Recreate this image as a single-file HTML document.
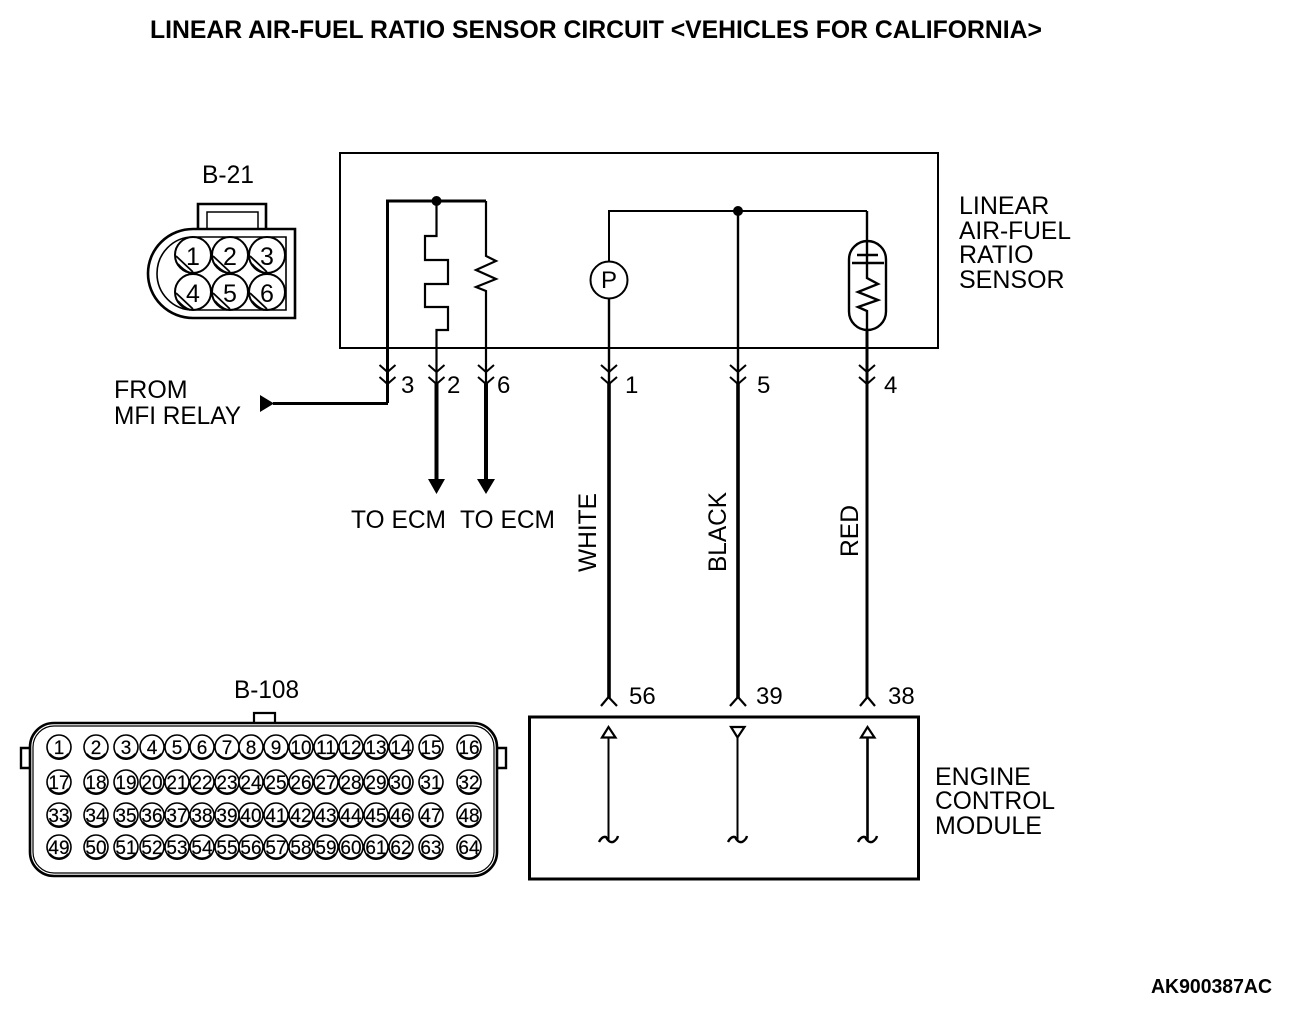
<!DOCTYPE html>
<html><head><meta charset="utf-8"><style>
html,body{margin:0;padding:0;background:#fff;width:1312px;height:1010px;overflow:hidden}
svg{display:block}
text{font-family:"Liberation Sans",sans-serif;fill:#000}
.l{font-size:25px}
.n{font-size:24px}
.pins text{font-size:19px;text-anchor:middle;stroke:#000;stroke-width:.2}
</style></head><body>
<svg width="1312" height="1010" viewBox="0 0 1312 1010" xmlns="http://www.w3.org/2000/svg">
<defs>
<g id="pin"><circle cx="0" cy="0" r="12" fill="#fff" stroke="#000" stroke-width="1.6"/><path d="M-9.500 7A12 12 0 0 0 9.500 7" fill="none" stroke="#000" stroke-width="2.600"/></g>
<path id="yd" d="M-8 -10L0 -3L8 -10M-8 2L0 9L8 2" fill="none" stroke="#000" stroke-width="2"/>
</defs>
<rect width="1312" height="1010" fill="#fff"/>
<text x="150" y="38" font-size="25" font-weight="bold" textLength="892" lengthAdjust="spacingAndGlyphs">LINEAR AIR-FUEL RATIO SENSOR CIRCUIT &lt;VEHICLES FOR CALIFORNIA&gt;</text>

<!-- B-21 -->
<text x="202" y="183" class="l" textLength="52" lengthAdjust="spacingAndGlyphs">B-21</text>
<g fill="none" stroke="#000">
<path d="M198 228V204H266V228" stroke-width="2.600"/>
<path d="M207 228V212H258V228" stroke-width="1.500"/>
<path d="M295 229H193A45 44.500 0 0 0 193 318H295Z" stroke-width="2.600"/>
<path d="M286 237V310H193A36 36.500 0 0 1 193 237Z" stroke-width="1.600"/>
<g stroke-width="2" fill="#fff">
<circle cx="193" cy="255" r="18"/><circle cx="230" cy="255" r="18"/><circle cx="267" cy="255" r="18"/>
<circle cx="193" cy="292" r="18"/><circle cx="230" cy="292" r="18"/><circle cx="267" cy="292" r="18"/>
</g>
<g stroke-width="1.800">
<path d="M176 256L193 272M178 264Q183 270 190 273"/>
<path d="M213 256L230 272M215 264Q220 270 227 273"/>
<path d="M250 256L267 272M252 264Q257 270 264 273"/>
<path d="M176 293L193 309M178 301Q183 307 190 310"/>
<path d="M213 293L230 309M215 301Q220 307 227 310"/>
<path d="M250 293L267 309M252 301Q257 307 264 310"/>
</g>
</g>
<g class="l" text-anchor="middle">
<text x="193" y="265">1</text><text x="230" y="265">2</text><text x="267" y="265">3</text>
<text x="193" y="302">4</text><text x="230" y="302">5</text><text x="267" y="302">6</text>
</g>

<!-- sensor box -->
<rect x="340" y="153" width="598" height="195" fill="none" stroke="#000" stroke-width="2"/>
<g fill="none" stroke="#000">
<path d="M387.500 403V201H486" stroke-width="3"/>
<path d="M436.500 201V236H425V260H448V284H425V307H448V330H436.500V382" stroke-width="2.200"/>
<path d="M486 201V256L496 261L476 270L496 279L476 287L486 291V382" stroke-width="2.200"/>
<path d="M609 280V211H867" stroke-width="2"/>
<path d="M609 298V382" stroke-width="2.400"/>
<path d="M738 211V382" stroke-width="2.400"/>
<path d="M867 211V263M857 255H878M852 263H884M867 263V278L878 284L858 292L878 300L858 307L867 311V330" stroke-width="2.400"/>
<path d="M867 330V382" stroke-width="3"/>
<rect x="849" y="241" width="37" height="89" rx="18.500" stroke-width="2.400"/>
<circle cx="609" cy="280" r="18.500" fill="#fff" stroke-width="2"/>
</g>
<circle cx="436.500" cy="201" r="5" fill="#000"/>
<circle cx="738" cy="211" r="5" fill="#000"/>
<text x="609" y="288" class="n" text-anchor="middle">P</text>
<g class="l">
<text x="959" y="214">LINEAR</text><text x="959" y="239" textLength="112" lengthAdjust="spacingAndGlyphs">AIR-FUEL</text><text x="959" y="263">RATIO</text><text x="959" y="288">SENSOR</text>
</g>
<use href="#yd" x="387.500" y="375"/><use href="#yd" x="436.500" y="375"/><use href="#yd" x="486" y="375"/>
<use href="#yd" x="609" y="375"/><use href="#yd" x="738" y="375"/><use href="#yd" x="867" y="375"/>
<g class="n">
<text x="401" y="393">3</text><text x="447" y="393">2</text><text x="497" y="393">6</text>
<text x="625" y="393">1</text><text x="757" y="393">5</text><text x="884" y="393">4</text>
</g>
<g stroke="#000" fill="none">
<path d="M436.500 382V482M486 382V482" stroke-width="4"/>
<path d="M609 382V698M738 382V698" stroke-width="3.600"/>
<path d="M867 382V698" stroke-width="3"/>
<path d="M273 403.500H388" stroke-width="3"/>
</g>
<path d="M260 395L274 403.500L260 412Z M428 479H445L436.500 494Z M477 479H495L486 494Z" fill="#000"/>
<g class="l">
<text x="114" y="398">FROM</text><text x="114" y="424" textLength="127" lengthAdjust="spacingAndGlyphs">MFI RELAY</text>
<text x="351" y="528" textLength="95" lengthAdjust="spacingAndGlyphs">TO ECM</text><text x="460" y="528" textLength="95" lengthAdjust="spacingAndGlyphs">TO ECM</text>
<text transform="translate(596,572) rotate(-90)" textLength="79" lengthAdjust="spacingAndGlyphs">WHITE</text>
<text transform="translate(726,572) rotate(-90)" textLength="80" lengthAdjust="spacingAndGlyphs">BLACK</text>
<text transform="translate(858,557) rotate(-90)" textLength="52" lengthAdjust="spacingAndGlyphs">RED</text>
</g>

<!-- ECM box -->
<g fill="none" stroke="#000">
<path d="M601 706L608.500 697L617 706M730 706L738 697L746 706M860 706L867.500 697L875 706" stroke-width="2.200"/>
<rect x="529.500" y="717" width="389" height="162" stroke-width="3"/>
<path d="M608.500 738V840M737.500 738V840" stroke-width="2"/>
<path d="M867.500 738V840" stroke-width="2.600"/>
<path d="M602 737.500L608.500 727L615.500 737.500Z M731 727H744.500L737.500 737.500Z M861 737.500L867.500 727L874.500 737.500Z" stroke-width="2.200"/>
<path d="M599 842Q602 836 606 837Q609 843 613 842Q617 840 618 836M728 842Q731 836 735 837Q738 843 742 842Q746 840 747 836M858 842Q861 836 865 837Q868 843 872 842Q876 840 877 836" stroke-width="2.400"/>
</g>
<g class="n">
<text x="629" y="704">56</text><text x="756" y="704">39</text><text x="888" y="704">38</text>
</g>
<g class="l">
<text x="935" y="785">ENGINE</text><text x="935" y="809" textLength="120" lengthAdjust="spacingAndGlyphs">CONTROL</text><text x="935" y="834">MODULE</text>
</g>

<!-- B-108 -->
<text x="234" y="698" class="l" textLength="65" lengthAdjust="spacingAndGlyphs">B-108</text>
<g fill="none" stroke="#000">
<path d="M254 723V713H275V723" stroke-width="2.200"/>
<path d="M30 748H21V768H30M497 748H506V768H497" stroke-width="2.400"/>
<rect x="30" y="723" width="467" height="153" rx="24" stroke-width="2.600"/>
<rect x="33" y="726" width="461" height="147" rx="21" stroke-width="1.200"/>
</g>
<g class="pins">
<use href="#pin" x="59" y="747"/><use href="#pin" x="96" y="747"/><use href="#pin" x="126" y="747"/><use href="#pin" x="152" y="747"/><use href="#pin" x="177" y="747"/><use href="#pin" x="202" y="747"/><use href="#pin" x="227" y="747"/><use href="#pin" x="251" y="747"/><use href="#pin" x="276" y="747"/><use href="#pin" x="301" y="747"/><use href="#pin" x="326" y="747"/><use href="#pin" x="351" y="747"/><use href="#pin" x="376" y="747"/><use href="#pin" x="401" y="747"/><use href="#pin" x="431" y="747"/><use href="#pin" x="469" y="747"/>
<use href="#pin" x="59" y="782"/><use href="#pin" x="96" y="782"/><use href="#pin" x="126" y="782"/><use href="#pin" x="152" y="782"/><use href="#pin" x="177" y="782"/><use href="#pin" x="202" y="782"/><use href="#pin" x="227" y="782"/><use href="#pin" x="251" y="782"/><use href="#pin" x="276" y="782"/><use href="#pin" x="301" y="782"/><use href="#pin" x="326" y="782"/><use href="#pin" x="351" y="782"/><use href="#pin" x="376" y="782"/><use href="#pin" x="401" y="782"/><use href="#pin" x="431" y="782"/><use href="#pin" x="469" y="782"/>
<use href="#pin" x="59" y="815"/><use href="#pin" x="96" y="815"/><use href="#pin" x="126" y="815"/><use href="#pin" x="152" y="815"/><use href="#pin" x="177" y="815"/><use href="#pin" x="202" y="815"/><use href="#pin" x="227" y="815"/><use href="#pin" x="251" y="815"/><use href="#pin" x="276" y="815"/><use href="#pin" x="301" y="815"/><use href="#pin" x="326" y="815"/><use href="#pin" x="351" y="815"/><use href="#pin" x="376" y="815"/><use href="#pin" x="401" y="815"/><use href="#pin" x="431" y="815"/><use href="#pin" x="469" y="815"/>
<use href="#pin" x="59" y="847"/><use href="#pin" x="96" y="847"/><use href="#pin" x="126" y="847"/><use href="#pin" x="152" y="847"/><use href="#pin" x="177" y="847"/><use href="#pin" x="202" y="847"/><use href="#pin" x="227" y="847"/><use href="#pin" x="251" y="847"/><use href="#pin" x="276" y="847"/><use href="#pin" x="301" y="847"/><use href="#pin" x="326" y="847"/><use href="#pin" x="351" y="847"/><use href="#pin" x="376" y="847"/><use href="#pin" x="401" y="847"/><use href="#pin" x="431" y="847"/><use href="#pin" x="469" y="847"/>
<text x="59" y="754">1</text><text x="96" y="754">2</text><text x="126" y="754">3</text><text x="152" y="754">4</text><text x="177" y="754">5</text><text x="202" y="754">6</text><text x="227" y="754">7</text><text x="251" y="754">8</text><text x="276" y="754">9</text><text x="301" y="754">10</text><text x="326" y="754">11</text><text x="351" y="754">12</text><text x="376" y="754">13</text><text x="401" y="754">14</text><text x="431" y="754">15</text><text x="469" y="754">16</text>
<text x="59" y="789">17</text><text x="96" y="789">18</text><text x="126" y="789">19</text><text x="152" y="789">20</text><text x="177" y="789">21</text><text x="202" y="789">22</text><text x="227" y="789">23</text><text x="251" y="789">24</text><text x="276" y="789">25</text><text x="301" y="789">26</text><text x="326" y="789">27</text><text x="351" y="789">28</text><text x="376" y="789">29</text><text x="401" y="789">30</text><text x="431" y="789">31</text><text x="469" y="789">32</text>
<text x="59" y="822">33</text><text x="96" y="822">34</text><text x="126" y="822">35</text><text x="152" y="822">36</text><text x="177" y="822">37</text><text x="202" y="822">38</text><text x="227" y="822">39</text><text x="251" y="822">40</text><text x="276" y="822">41</text><text x="301" y="822">42</text><text x="326" y="822">43</text><text x="351" y="822">44</text><text x="376" y="822">45</text><text x="401" y="822">46</text><text x="431" y="822">47</text><text x="469" y="822">48</text>
<text x="59" y="854">49</text><text x="96" y="854">50</text><text x="126" y="854">51</text><text x="152" y="854">52</text><text x="177" y="854">53</text><text x="202" y="854">54</text><text x="227" y="854">55</text><text x="251" y="854">56</text><text x="276" y="854">57</text><text x="301" y="854">58</text><text x="326" y="854">59</text><text x="351" y="854">60</text><text x="376" y="854">61</text><text x="401" y="854">62</text><text x="431" y="854">63</text><text x="469" y="854">64</text>
</g>
<text x="1151" y="993" font-size="20" font-weight="bold" textLength="121" lengthAdjust="spacingAndGlyphs">AK900387AC</text>
</svg>
</body></html>
